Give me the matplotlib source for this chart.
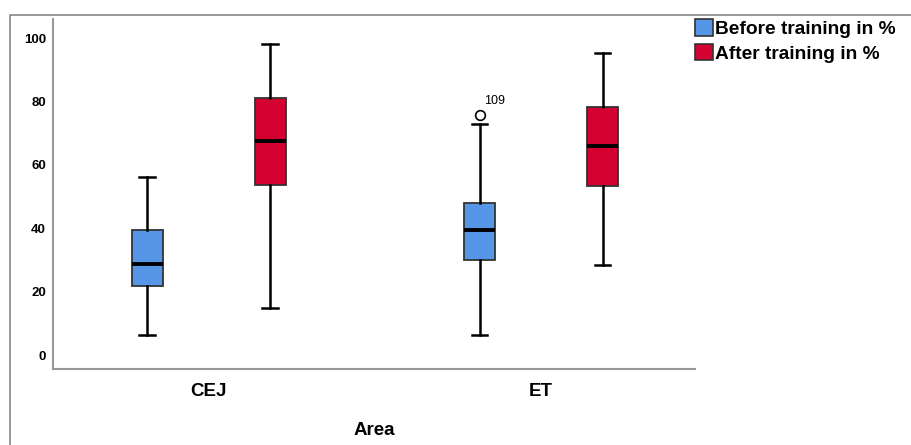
import matplotlib.pyplot as plt
from matplotlib.lines import Line2D

plt.rcParams['font.family'] = ['Liberation Sans', 'DejaVu Sans']

areas = ['CEJ', 'ET']
series = ['Before training in %', 'After training in %']
colors = ['#5596e6', '#d4002f']

# whisker low, Q1, median, Q3, whisker high for each area
before_lo = [6.4, 6.3]
before_q1 = [21.7, 30.0]
before_med = [28.6, 39.6]
before_q3 = [39.6, 48.0]
before_hi = [56.1, 73.0]
before_out = [[], [75.7]]
before_out_id = [[], ['109']]

after_lo = [14.7, 28.5]
after_q1 = [53.6, 53.5]
after_med = [67.4, 66.0]
after_q3 = [81.2, 78.4]
after_hi = [98.0, 95.2]
after_out = [[], []]

fig = plt.figure(figsize=(9.12, 4.45), dpi=100)
ax = fig.add_axes([0.0581, 0.1708, 0.762 - 0.0581, 0.957 - 0.1708])

def stats(lo, q1, med, q3, hi, out):
    return [dict(whislo=lo[i], q1=q1[i], med=med[i], q3=q3[i], whishi=hi[i], fliers=out[i])
            for i in range(len(areas))]

groups = [stats(before_lo, before_q1, before_med, before_q3, before_hi, before_out),
          stats(after_lo, after_q1, after_med, after_q3, after_hi, after_out)]
offsets = [-0.185, 0.185]

for g, st in enumerate(groups):
    pos = [i + offsets[g] for i in range(len(areas))]
    ax.bxp(st, positions=pos, widths=0.093, patch_artist=True, manage_ticks=False,
           boxprops=dict(facecolor=colors[g], edgecolor='#333333', linewidth=1.3),
           medianprops=dict(color='black', linewidth=2.8),
           whiskerprops=dict(color='black', linewidth=1.8),
           capprops=dict(color='black', linewidth=1.8),
           flierprops=dict(marker='o', markerfacecolor='white', markeredgecolor='black',
                           markersize=7, markeredgewidth=1.2))

# outlier case labels
for i in range(len(areas)):
    for v, lab in zip(before_out[i], before_out_id[i]):
        ax.annotate(lab, (i + offsets[0], v), xytext=(3, 6), textcoords='offset points',
                    fontsize=9, ha='left', va='bottom')

ax.set_xlim(-0.468, 1.463)
ax.set_ylim(-4.4, 106)
ax.set_xticks(range(len(areas)))
ax.set_xticklabels(areas, fontsize=13.5, fontweight='bold')
ax.set_yticks([0, 20, 40, 60, 80, 100])
ax.tick_params(axis='y', length=0, labelsize=9.5, pad=5)
ax.tick_params(axis='x', length=0, pad=10)
for lbl in ax.get_yticklabels():
    lbl.set_fontweight('bold')
ax.set_xlabel('Area', fontsize=13.5, fontweight='bold', labelpad=16)
for s in ['top', 'right']:
    ax.spines[s].set_visible(False)
for s in ['left', 'bottom']:
    ax.spines[s].set_color('#999999')
    ax.spines[s].set_linewidth(1.5)

handles = [plt.Rectangle((0, 0), 1, 1, facecolor=c, edgecolor='#333333', linewidth=1.2) for c in colors]
fig.legend(handles, series, loc='upper left', bbox_to_anchor=(0.762, 0.957), frameon=False,
           prop=dict(size=13.8, weight='bold'), handlelength=0.95, handleheight=0.95,
           handletextpad=0.12, labelspacing=0.3, borderaxespad=0, borderpad=0)

# outer frame
fig.add_artist(Line2D([0.011, 0.011, 1.0], [0.0, 0.966, 0.966], color='#888888', linewidth=1.2))

fig.savefig('out.png', dpi=100)
